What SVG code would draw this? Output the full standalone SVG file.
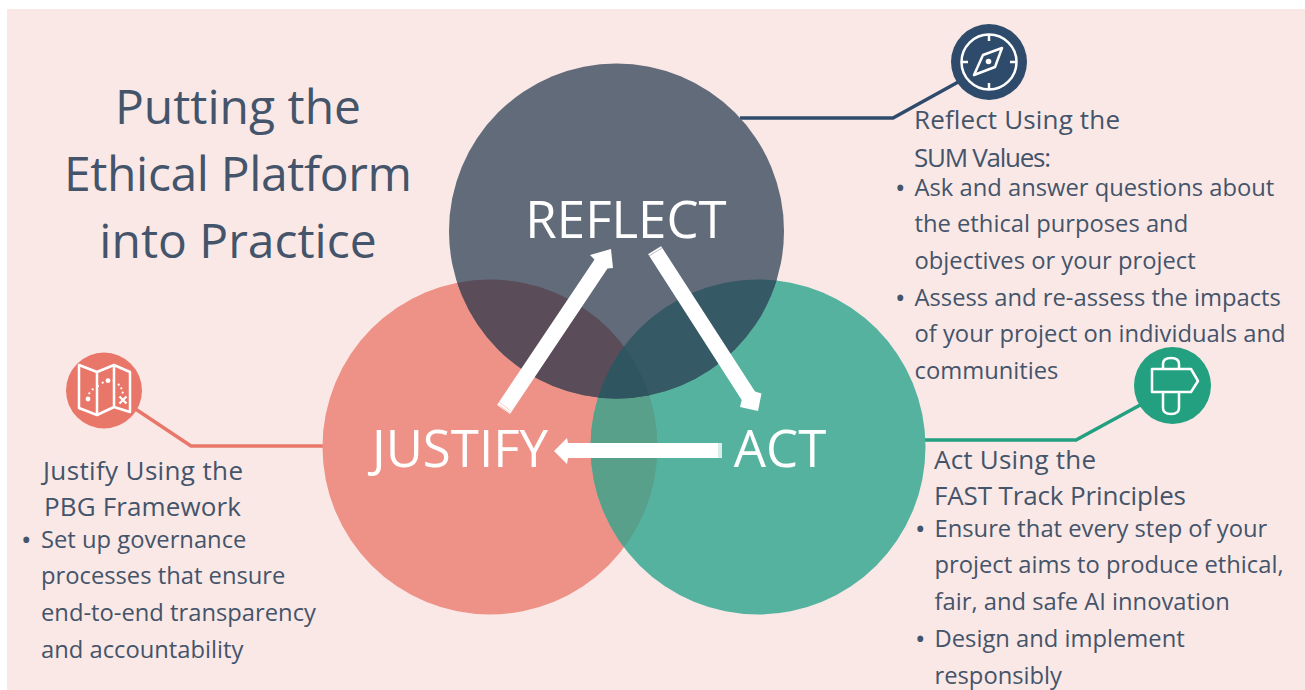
<svg xmlns="http://www.w3.org/2000/svg" width="1305" height="690" viewBox="0 0 1305 690">
<style>
text{font-family:"Open Sans","Noto Sans","Liberation Sans",sans-serif;fill:#44546A}
.t{font-size:48px;text-anchor:middle}
.h{font-size:26px}
.b{font-size:23.75px}
.d{font-size:28px}
.c{font-size:51px;fill:#fff;text-anchor:middle}
.ln{fill:none;stroke-width:3.5}
.ic{fill:none;stroke:#fff;stroke-width:2.5;stroke-linejoin:round}
.st{stroke-width:1;opacity:.45;fill:none}
.m{fill:#fff}
</style>
<defs>
<clipPath id="cj"><circle cx="490" cy="447" r="167.5"/></clipPath>
<clipPath id="ca"><circle cx="758" cy="447" r="167.5"/></clipPath>
</defs>
<rect width="1305" height="690" fill="#fff"/>
<rect x="7" y="9" width="1298" height="681" fill="#FAE8E6"/>
<g id="connectors">
<path class="ln" stroke="#2F4B6B" d="M740 118H893L960 81"/>
<path class="ln" stroke="#E8776A" d="M323 446H191L134 408"/>
<path class="ln" stroke="#22A080" d="M924 440H1076L1142 404"/>
</g>
<g id="justify"><circle cx="490" cy="447" r="167.5" fill="#EE9288"/></g>
<g id="act"><circle cx="758" cy="447" r="167.5" fill="#55B29F"/></g>
<g id="reflect"><circle cx="616.5" cy="231" r="167.5" fill="#616B79"/></g>
<g id="overlaps">
<g clip-path="url(#cj)"><circle cx="758" cy="447" r="167.5" fill="#59A08B"/><circle cx="616.5" cy="231" r="167.5" fill="#5B4C59"/></g>
<g clip-path="url(#ca)"><circle cx="616.5" cy="231" r="167.5" fill="#355A65"/></g>
<g clip-path="url(#cj)"><g clip-path="url(#ca)"><circle cx="616.5" cy="231" r="167.5" fill="#2F5660"/></g></g>
</g>
<g id="arrows" fill="#fff">
<polygon points="497,405 594.500,259.500 590,255 611,249 613,268 607.500,268.500 510,414"/>
<polygon points="648,254 661,246 755,391.500 761.500,393.500 758,411 740,407 741.700,400"/>
<polygon points="722,443 722,458 568,458 567,464 554,451 567,438 568,443"/>
</g>
<g id="arrow-tails">
<path class="st" stroke="#55B29F" d="M719 443V458M721 443V458"/>
<path class="st" stroke="#EE9288" d="M499 402L511 411M497.500 404L510 413"/>
<path class="st" stroke="#616B79" d="M649 256L662 248M648 254L661 246"/>
</g>
<text class="c" x="626" y="238">REFLECT</text>
<text class="c" x="460" y="467">JUSTIFY</text>
<text class="c" x="780" y="467">ACT</text>
<g id="title">
<text class="t" x="238" y="124">Putting the</text>
<text class="t" x="238" y="191" textLength="348">Ethical Platform</text>
<text class="t" x="238" y="258">into Practice</text>
</g>
<g id="icon-reflect">
<circle cx="989" cy="62" r="38" fill="#2F4B6B"/>
<circle cx="989" cy="62" r="27.500" class="ic"/>
<path class="ic" d="M1002 48L995 67L974 75L983 55Z"/>
<path class="ic" stroke-width="1.800" d="M989 35V41M989 83V89M962 62H968M1010 62H1016"/>
<circle cx="988.500" cy="61.500" r="2.800" fill="#fff"/>
</g>
<g id="icon-justify">
<circle cx="104" cy="390.500" r="38" fill="#E8776A"/>
<path class="ic" d="M79 365L97 372V415L79 408ZM97 372L114 365V407L97 415ZM114 365L130 372V412L114 407Z"/>
<circle class="m" cx="89.300" cy="393.300" r="1.100"/><circle class="m" cx="92.700" cy="389.300" r="1.100"/><circle class="m" cx="98" cy="386" r="1.100"/><circle class="m" cx="102.700" cy="382.700" r="1.100"/><circle class="m" cx="113.700" cy="380.700" r="1.100"/><circle class="m" cx="118.700" cy="384.700" r="1.100"/><circle class="m" cx="121.300" cy="388.300" r="1.100"/><circle class="m" cx="122.700" cy="392.700" r="1.100"/>
<circle class="m" cx="88" cy="399" r="2.400"/><circle class="m" cx="108" cy="380.700" r="2.400"/>
<path stroke="#fff" stroke-width="2.200" d="M119.500 396.500L126.500 403.500M126.500 396.500L119.500 403.500"/>
</g>
<g id="icon-act">
<circle cx="1172.500" cy="385.500" r="38.500" fill="#22A080"/>
<path class="ic" stroke-width="3" d="M1152 369H1191L1198 381L1191 392H1152Z M1163 369V364Q1163 358 1171 358Q1179 358 1179 364V369 M1163 392V408Q1163 414 1171 414Q1179 414 1179 408V392"/>
</g>
<g id="text-reflect">
<text class="h" x="914" y="129" textLength="206">Reflect Using the</text>
<text class="h" x="914" y="167" textLength="137">SUM Values:</text>
<text class="d" x="895" y="198">•</text>
<text class="b" x="914.500" y="196">Ask and answer questions about</text>
<text class="b" x="914.500" y="232">the ethical purposes and</text>
<text class="b" x="914.500" y="269">objectives or your project</text>
<text class="d" x="895" y="308">•</text>
<text class="b" x="914.500" y="306">Assess and re-assess the impacts</text>
<text class="b" x="914.500" y="342">of your project on individuals and</text>
<text class="b" x="914.500" y="379">communities</text>
</g>
<g id="text-justify">
<text class="h" x="43" y="480" textLength="200">Justify Using the</text>
<text class="h" x="44" y="516" textLength="197">PBG Framework</text>
<text class="d" x="21" y="550">•</text>
<text class="b" x="41" y="548">Set up governance</text>
<text class="b" x="41" y="584">processes that ensure</text>
<text class="b" x="41" y="621">end-to-end transparency</text>
<text class="b" x="41" y="658">and accountability</text>
</g>
<g id="text-act">
<text class="h" x="934" y="469" textLength="162">Act Using the</text>
<text class="h" x="934" y="505" textLength="252">FAST Track Principles</text>
<text class="d" x="915" y="539">•</text>
<text class="b" x="934.500" y="537">Ensure that every step of your</text>
<text class="b" x="934.500" y="573">project aims to produce ethical,</text>
<text class="b" x="934.500" y="610">fair, and safe AI innovation</text>
<text class="d" x="915" y="649">•</text>
<text class="b" x="934.500" y="647">Design and implement</text>
<text class="b" x="934.500" y="684">responsibly</text>
</g>
</svg>
